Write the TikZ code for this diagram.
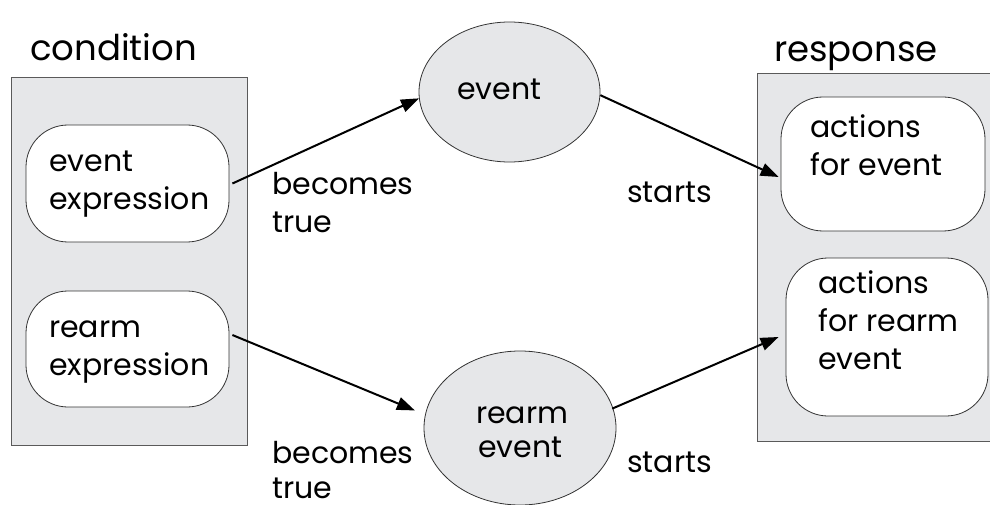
\documentclass[tikz,border=0pt]{standalone}
\usepackage{fontspec}
\setmainfont{Poppins}
\usetikzlibrary{arrows.meta,shapes.geometric}
\definecolor{boxgray}{RGB}{230,231,233}
\definecolor{edgegray}{RGB}{90,90,90}
\tikzset{
  grp/.style={draw=edgegray, line width=1pt, fill=boxgray, rectangle, inner sep=0pt},
  rbox/.style={draw=black!80, line width=0.8pt, fill=white, rectangle, rounded corners=42pt, inner sep=0pt},
  evell/.style={draw=black!80, line width=0.8pt, fill=boxgray, ellipse, inner sep=0pt},
  txt/.style={anchor=base west, inner sep=0pt, font=\fontsize{30}{38}\selectfont},
  title/.style={anchor=base west, inner sep=0pt, font=\fontsize{35.5}{42}\selectfont},
  conn/.style={line width=2pt, -{Triangle[length=18pt,width=13pt]}},
}
\begin{document}
\begin{tikzpicture}[x=1pt,y=-1pt]
\useasboundingbox (0,0) rectangle (990,505);
% left group
\node[grp, minimum width=236pt, minimum height=367pt] (cond) at (129,261.5) {};
\node[title] (condlbl) at (30,61) {condition};
\node[rbox, minimum width=203pt, minimum height=117pt] (evexpr) at (127.5,183.5) {};
\node[txt] (evexprA) at (49,172) {event};
\node[txt] (evexprB) at (49,210) {expression};
\node[rbox, minimum width=203pt, minimum height=116pt] (rexpr) at (127.5,349) {};
\node[txt] (rexprA) at (49,337) {rearm};
\node[txt] (rexprB) at (49,375) {expression};
% ellipses
\node[evell, minimum width=181pt, minimum height=140pt] (event) at (509.5,92) {};
\node[txt] (eventlbl) at (457,100) {event};
\node[evell, minimum width=192pt, minimum height=154pt] (rearm) at (520,428) {};
\node[txt] (rearmA) at (476,423) {rearm};
\node[txt] (rearmB) at (478,457) {event};
% right group
\node[grp, minimum width=236pt, minimum height=367pt] (resp) at (875,257.5) {};
\node[title] (resplbl) at (774,62) {response};
\node[rbox, minimum width=204pt, minimum height=134pt] (act1) at (883,164) {};
\node[txt] (act1A) at (810,138) {actions};
\node[txt] (act1B) at (810,176) {for event};
\node[rbox, minimum width=202pt, minimum height=158pt] (act2) at (887,337) {};
\node[txt] (act2A) at (818,293) {actions};
\node[txt] (act2B) at (818,331) {for rearm};
\node[txt] (act2C) at (818,369) {event};
% labels
\node[txt] (bt1A) at (272,195) {becomes};
\node[txt] (bt1B) at (272,233) {true};
\node[txt] (bt2A) at (272,463) {becomes};
\node[txt] (bt2B) at (272,498) {true};
\node[txt] (st1) at (627,203) {starts};
\node[txt] (st2) at (627,472) {starts};
% connectors
\draw[conn] ([xshift=3pt]evexpr.east) -- (event.184);
\draw[conn, shorten >=11pt] ([xshift=3pt,yshift=14pt]rexpr.east) -- (rearm.172);
\draw[conn] (event.-2) -- ([xshift=-2pt,yshift=-13pt]act1.west);
\draw[conn, shorten <=-1pt] (rearm.12) -- ([xshift=-7pt]act2.west);
\end{tikzpicture}
\end{document}
